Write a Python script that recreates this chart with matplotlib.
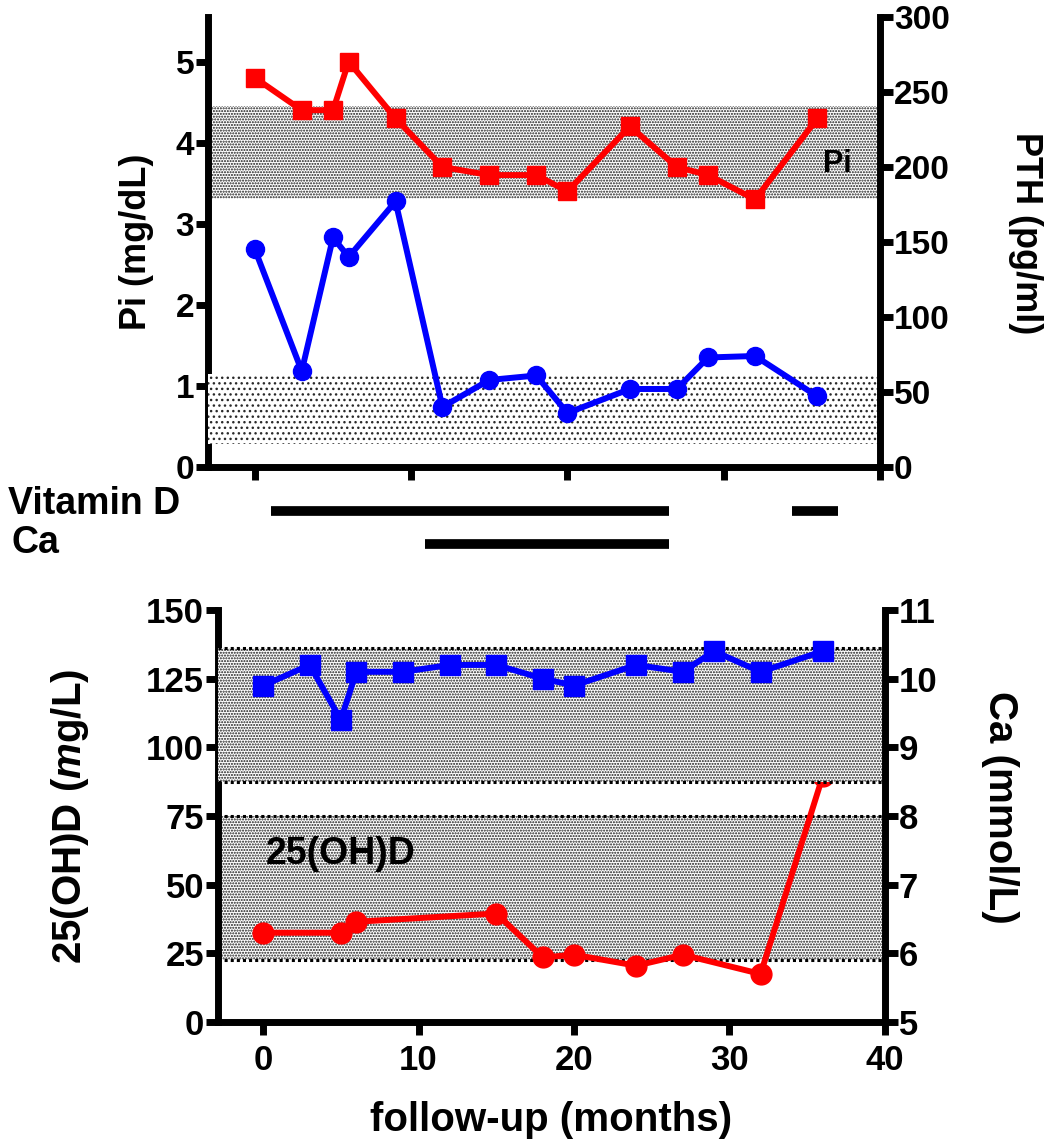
"""Pi/PTH and 25(OH)D/Ca follow-up chart with treatment periods."""

import matplotlib

matplotlib.use("Agg")
import matplotlib.pyplot as plt

# top panel: phosphate (left) and PTH (right)
pi_months = [0, 3, 5, 6, 9, 12, 15, 18, 20, 24, 27, 29, 32, 36]
pi_values = [4.8, 4.4, 4.4, 5.0, 4.3, 3.7, 3.6, 3.6, 3.4, 4.2, 3.7, 3.6, 3.3, 4.3]
pth_months = [0, 3, 5, 6, 9, 12, 15, 18, 20, 24, 27, 29, 32, 36]
pth_values = [145, 64, 153, 140, 177, 40, 58, 61, 36, 52, 52, 73, 74, 47]
pi_range = (3.3, 4.45)
pth_range = (15, 62)

# treatment periods (months)
vitd_periods = [(1.0, 26.5), (34.4, 37.3)]
ca_periods = [(10.9, 26.5)]

# bottom panel: 25(OH)D (left) and Ca (right)
ohd_months = [0, 5, 6, 15, 18, 20, 24, 27, 32, 36]
ohd_values = [32.5, 32.5, 36.5, 39.5, 23.5, 24.5, 20.5, 24.5, 17.5, 89.5]
ca_months = [0, 3, 5, 6, 9, 12, 15, 18, 20, 24, 27, 29, 32, 36]
ca_values = [9.9, 10.2, 9.4, 10.1, 10.1, 10.2, 10.2, 10.0, 9.9, 10.2, 10.1, 10.4, 10.1, 10.4]
ohd_range = (22.5, 75)
ca_range = (8.5, 10.45)

RED = "#ff0000"
BLUE = "#0000ff"
SPINE_LW = 5
TICK_KW = dict(direction="out", length=9, width=5, pad=1)


def style_axes(ax, left, right, bottom):
    ax.spines["top"].set_visible(False)
    ax.spines["left"].set_visible(left)
    ax.spines["right"].set_visible(right)
    ax.spines["bottom"].set_visible(bottom)
    for s in ax.spines.values():
        s.set_linewidth(SPINE_LW)


def band(ax, lo, hi, edge, hatch, border=False):
    x0, x1 = ax.get_xlim()
    ax.fill_between([x0, x1], lo, hi, facecolor="white", edgecolor=edge,
                    hatch=hatch, linewidth=0, zorder=0)
    if border:
        for y in (lo, hi):
            ax.axhline(y, color="black", lw=2.2, ls=(0, (1, 1)), zorder=1)


def main():
    plt.rcParams["font.family"] = "Liberation Sans"
    plt.rcParams["font.weight"] = "bold"
    plt.rcParams["axes.labelweight"] = "bold"
    plt.rcParams["hatch.linewidth"] = 1.0
    plt.rcParams["mathtext.fontset"] = "custom"
    plt.rcParams["mathtext.it"] = "Liberation Sans:italic:bold"
    plt.rcParams["mathtext.rm"] = "Liberation Sans:bold"

    fig = plt.figure(figsize=(10.5, 11.46), dpi=100)

    # ---- top panel
    ax1 = fig.add_axes([0.1981, 0.5925, 0.64, 0.3927])
    ax1.set_xlim(-3, 40)
    ax1.set_ylim(0, 5.55)
    ax1r = ax1.twinx()
    ax1r.set_ylim(0, 300)
    style_axes(ax1, True, False, True)
    style_axes(ax1r, False, True, False)

    band(ax1, *pi_range, edge="#1a1a1a", hatch="......")
    band(ax1r, *pth_range, edge="#2a2a2a", hatch="...")

    ax1.plot(pi_months, pi_values, color=RED, lw=4.3, marker="s", ms=13, zorder=3)
    ax1r.plot(pth_months, pth_values, color=BLUE, lw=4.3, marker="o", ms=13, zorder=3)

    ax1.set_xticks([0, 10, 20, 30, 40])
    ax1.set_xticklabels([])
    ax1.set_yticks(range(0, 6))
    ax1r.set_yticks(range(0, 301, 50))
    ax1.tick_params(labelsize=24, **TICK_KW)
    ax1r.tick_params(labelsize=24, **TICK_KW)

    ax1.set_ylabel("Pi (mg/dL)", fontsize=26, va="center")
    ax1.yaxis.set_label_coords(-0.106, 0.5)
    ax1r.set_ylabel("PTH (pg/ml)", fontsize=26, rotation=270, va="center")
    ax1r.yaxis.set_label_coords(1.216, 0.52)

    ax1.text(37.3, 3.74, "Pi", fontsize=22, ha="center", va="center", zorder=4)
    ax1.text(2.25, 0.68, "PTH", fontsize=23, ha="center", va="center", zorder=4)

    # ---- treatment bars
    axt = fig.add_axes([0.1981, 0.5113, 0.64, 0.0567])
    axt.set_xlim(-3, 40)
    axt.set_ylim(-0.5, 1.5)
    axt.axis("off")
    for start, end in vitd_periods:
        axt.plot([start, end], [1, 1], color="black", lw=7, solid_capstyle="butt")
    for start, end in ca_periods:
        axt.plot([start, end], [0, 0], color="black", lw=7, solid_capstyle="butt")
    fig.text(0.0076, 0.5602, "Vitamin D", fontsize=27, ha="left", va="center")
    fig.text(0.0114, 0.5262, "Ca", fontsize=27, ha="left", va="center")

    # ---- bottom panel
    ax2 = fig.add_axes([0.2076, 0.1082, 0.6352, 0.3595])
    ax2.set_xlim(-2.9, 40)
    ax2.set_ylim(0, 150)
    ax2r = ax2.twinx()
    ax2r.set_ylim(5, 11)
    style_axes(ax2, True, False, True)
    style_axes(ax2r, False, True, False)

    band(ax2, *ohd_range, edge="#1a1a1a", hatch="......", border=True)
    band(ax2r, *ca_range, edge="#1a1a1a", hatch="......", border=True)

    ax2.plot(ohd_months, ohd_values, color=RED, lw=4.3, marker="o", ms=15, zorder=3)
    ax2r.plot(ca_months, ca_values, color=BLUE, lw=4.3, marker="s", ms=15, zorder=3)

    ax2.set_xticks([0, 10, 20, 30, 40])
    ax2.set_yticks(range(0, 151, 25))
    ax2r.set_yticks(range(5, 12))
    ax2.tick_params(labelsize=25, **TICK_KW)
    ax2.tick_params(axis="x", pad=7)
    ax2r.tick_params(labelsize=25, **TICK_KW)

    ax2.set_ylabel(r"25(OH)D ($\mathit{m}$g/L)", fontsize=29, va="center")
    ax2.yaxis.set_label_coords(-0.222, 0.5)
    ax2r.set_ylabel("Ca (mmol/L)", fontsize=29, rotation=270, va="center")
    ax2r.yaxis.set_label_coords(1.172, 0.52)
    ax2.set_xlabel("follow-up (months)", fontsize=29)
    ax2.xaxis.set_label_coords(0.5, -0.238)
    ax2.xaxis.label.set_va("center")

    ax2.text(31.9, 104.5, "Ca", fontsize=27, ha="center", va="center", zorder=4)
    ax2.text(5.0, 61, "25(OH)D", fontsize=27, ha="center", va="center", zorder=4)

    fig.savefig("out.png", dpi=100)


if __name__ == "__main__":
    main()
